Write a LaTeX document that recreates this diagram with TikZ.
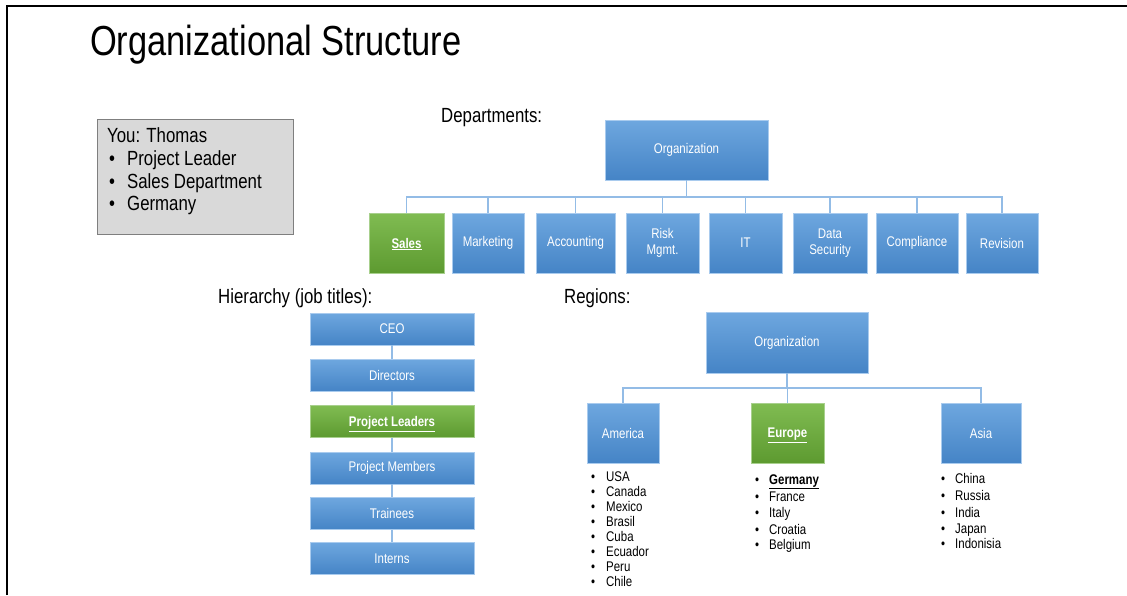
\documentclass[tikz,border=0pt]{standalone}
\usepackage{fontspec}
\setmainfont{Liberation Sans}[FakeStretch=0.82]
\definecolor{bluetop}{HTML}{6EA7DF}
\definecolor{bluebot}{HTML}{4584C6}
\definecolor{boxedge}{HTML}{A9CBEE}
\definecolor{greentop}{HTML}{80BC52}
\definecolor{greenbot}{HTML}{5D9A30}
\definecolor{greenedge}{HTML}{A8D08D}
\definecolor{conn}{HTML}{93BCE6}
\definecolor{panelfill}{HTML}{D9D9D9}
\definecolor{panelline}{HTML}{7F7F7F}
\newcommand{\bul}[2]{\makebox[#1][l]{\textbullet}#2}
% bold underlined label whose underline does not move the text off centre
\newcommand{\ownpick}[1]{\raisebox{0pt}[\height][0pt]{\underline{\textbf{#1}}}}
\begin{document}
\begin{tikzpicture}[x=1pt,y=-1pt,
  bluebox/.style={rectangle, top color=bluetop, bottom color=bluebot, draw=boxedge,
    line width=0.7pt, text=white, align=center, inner sep=0pt,
    font=\fontsize{14}{16}\selectfont},
  greenbox/.style={bluebox, top color=greentop, bottom color=greenbot, draw=greenedge},
  dept/.style={minimum height=60},
  rank/.style={minimum width=164, minimum height=32},
  region/.style={minimum height=60},
  link/.style={draw=conn, line width=1.5pt},
  label/.style={anchor=base west, inner sep=0pt, font=\fontsize{20.5}{23}\selectfont},
  item/.style={anchor=base west, inner sep=0pt, font=\fontsize{14}{15}\selectfont},
  panel/.style={rectangle, fill=panelfill, draw=panelline, line width=0.8pt,
    anchor=north west, inner sep=0pt}]
\useasboundingbox (0,0) rectangle (1127,595);
\fill[white] (0,0) rectangle (1127,595);

% page frame
\draw[line width=2.5pt] (7,595) -- (7,6) -- (1127,6);

% title
\node[anchor=base west, inner sep=0pt, font=\fontsize{42}{46}\selectfont] (title) at (90,55) {Organizational Structure};

% personal info panel
\node[panel, minimum width=196, minimum height=115] (you) at (97,119) {};
\node[label] (you1) at (107,142) {You: Thomas};
\node[label] (you2) at (107,165) {\hspace*{2pt}\bul{18pt}{Project Leader}};
\node[label] (you3) at (107,188) {\hspace*{2pt}\bul{18pt}{Sales Department}};
\node[label] (you4) at (107,210) {\hspace*{2pt}\bul{18pt}{Germany}};

% section headings
\node[label] (hdep) at (441,122) {Departments:};
\node[label] (hhier) at (218,303) {Hierarchy (job titles):};
\node[label] (hreg) at (564,303) {Regions:};

% departments chart
\node[bluebox, minimum width=163, minimum height=60] (org) at (686.5,150) {Organization};
\node[greenbox, dept, minimum width=75] (sales) at (406.5,243) {\ownpick{Sales}};
\node[bluebox, dept, minimum width=72] (mkt) at (488,243) {Marketing};
\node[bluebox, dept, minimum width=79] (acc) at (575.5,243) {Accounting};
\node[bluebox, dept, minimum width=73] (risk) at (662.5,243) {Risk\\Mgmt.};
\node[bluebox, dept, minimum width=73] (it) at (745.5,243) {IT};
\node[bluebox, dept, minimum width=74] (dsec) at (830,243) {Data\\Security};
\node[bluebox, dept, minimum width=82] (comp) at (917,243) {Compliance};
\node[bluebox, dept, minimum width=72] (rev) at (1002,243) {Revision};
\coordinate (busD) at (686.5,197);
\draw[link] (org.south) -- (busD);
\foreach \n in {sales,mkt,acc,risk,it,dsec,comp,rev}
  \draw[link] (\n.north) |- (busD);

% hierarchy chart
\node[bluebox, rank] (ceo) at (392,329) {CEO};
\node[bluebox, rank] (dir) at (392,375) {Directors};
\node[greenbox, rank] (pl) at (392,421.5) {\ownpick{Project Leaders}};
\node[bluebox, rank] (pm) at (392,468) {Project Members};
\node[bluebox, rank] (tr) at (392,513.5) {Trainees};
\node[bluebox, rank] (int) at (392,558.5) {Interns};
\draw[link] (ceo) -- (dir);
\draw[link] (dir) -- (pl);
\draw[link] (pl) -- (pm);
\draw[link] (pm) -- (tr);
\draw[link] (tr) -- (int);

% regions chart
\node[bluebox, minimum width=162, minimum height=61] (rorg) at (787,342.5) {Organization};
\node[bluebox, region, minimum width=72] (am) at (623,433) {America};
\node[greenbox, region, minimum width=73] (eu) at (787.5,433) {\ownpick{Europe}};
\node[bluebox, region, minimum width=80] (as) at (981,433) {Asia};
\coordinate (busR) at (787,388);
\draw[link] (rorg.south) -- (busR);
\foreach \n in {am,eu,as}
  \draw[link] (\n.north) |- (busR);

% country lists
\node[item] (us) at (591,481.5) {\bul{15pt}{USA}};
\node[item] (ca) at (591,496.5) {\bul{15pt}{Canada}};
\node[item] (mx) at (591,511.5) {\bul{15pt}{Mexico}};
\node[item] (br) at (591,526.5) {\bul{15pt}{Brasil}};
\node[item] (cu) at (591,541.5) {\bul{15pt}{Cuba}};
\node[item] (ec) at (591,556) {\bul{15pt}{Ecuador}};
\node[item] (pe) at (591,571) {\bul{15pt}{Peru}};
\node[item] (cl) at (591,586) {\bul{15pt}{Chile}};

\node[item] (de) at (755,484) {\bul{14pt}{\underline{\textbf{Germany}}}};
\node[item] (fr) at (755,501) {\bul{14pt}{France}};
\node[item] (itl) at (755,517) {\bul{14pt}{Italy}};
\node[item] (hr) at (755,534) {\bul{14pt}{Croatia}};
\node[item] (be) at (755,549) {\bul{14pt}{Belgium}};

\node[item] (cn) at (941,483) {\bul{14pt}{China}};
\node[item] (ru) at (941,500) {\bul{14pt}{Russia}};
\node[item] (in) at (941,517) {\bul{14pt}{India}};
\node[item] (jp) at (941,533) {\bul{14pt}{Japan}};
\node[item] (id) at (941,548) {\bul{14pt}{Indonisia}};
\end{tikzpicture}
\end{document}
